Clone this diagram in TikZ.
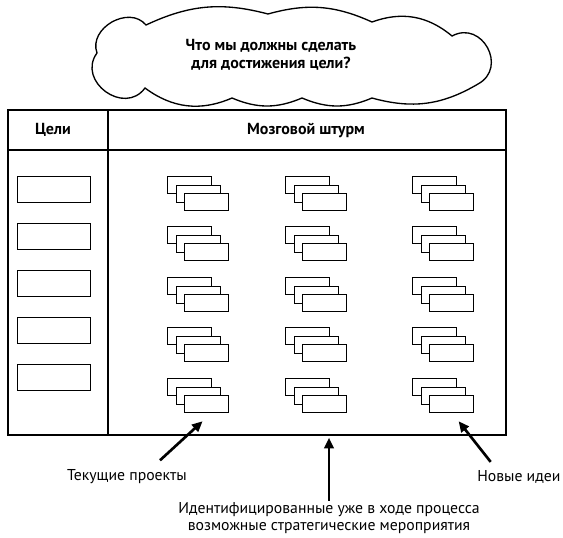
\documentclass[tikz,border=0pt]{standalone}
\usepackage{fontspec}
\setmainfont{PT Sans}
\usetikzlibrary{arrows.meta,positioning,calc}
\tikzset{
  line/.style={draw=black,line width=1.1pt},
  goal/.style={draw,line width=1.1pt,fill=white,minimum width=54.75pt,minimum height=19.5pt,inner sep=0pt,anchor=north west},
  card/.style={draw,line width=0.9pt,fill=white,minimum width=33pt,minimum height=12.75pt,inner sep=0pt,anchor=north west},
  head/.style={font=\fontsize{12}{13.5}\selectfont\bfseries},
  note/.style={font=\fontsize{11.8}{12.75}\selectfont,align=center,inner sep=1pt},
  arr/.style={-{Triangle[length=8pt,width=7pt]},line width=2pt},
  puff/.style={bend left=#1},
}
\begin{document}
\begin{tikzpicture}[x=0.75pt,y=-0.75pt]
  \useasboundingbox (0,0) rectangle (563,537);
  % cloud with the question
  \draw[line width=1pt,fill=white] (97,53) to[puff=80,looseness=1.2] (146,25)
    to[puff=20] (268,14) to[puff=20] (372,22) to[puff=30] (452,36)
    to[puff=90,looseness=1.6] (478,84) to[puff=23] (372,98)
    to[puff=23] (302,98) to[puff=23] (232,98) to[puff=30] (145,88)
    to[puff=90,looseness=1.5] cycle;
  \node[head,align=center] (q) at (271,55) {Что мы должны сделать\\для достижения цели?};
  % table
  \draw[line] (8,110) rectangle (506,435);
  \draw[line] (8,150) -- (506,150);
  \draw[line] (108,110) -- (108,435);
  \node[head] (goals) at (53,130) {Цели};
  \node[head] (brain) at (306,130) {Мозговой штурм};
  \foreach \i/\y in {1/176,2/223,3/270,4/317,5/364}
    \node[goal] (g\i) at (17,\y) {};
  % stacks of cards
  \foreach \c/\x in {1/167,2/285,3/412}
    \foreach \r/\y in {1/176,2/226,3/277,4/327,5/378} {
      \node[card] at (\x,\y) {};
      \node[card] at (\x+8.5,\y+8.5) {};
      \node[card] (s\c-\r) at (\x+17,\y+17) {};
    }
  % labels below
  \node[note] (cur) at (127,477) {Текущие проекты};
  \node[note,anchor=east] (new) at (562,477) {Новые идеи};
  \node[note] (ids) at (329,518) {Идентифицированные уже в ходе процесса\\возможные стратегические мероприятия};
  \coordinate (tb) at (329,435);
  \draw[arr] ([shift={(33,-8)}]cur.north) -- ([shift={(-4,8)}]s1-5.south);
  \draw[arr] ([shift={(15,-7)}]new.north west) -- ([shift={(7,8)}]s3-5.south);
  \draw[arr,shorten >=2pt] (ids.north -| tb) -- (tb);
\end{tikzpicture}
\end{document}
